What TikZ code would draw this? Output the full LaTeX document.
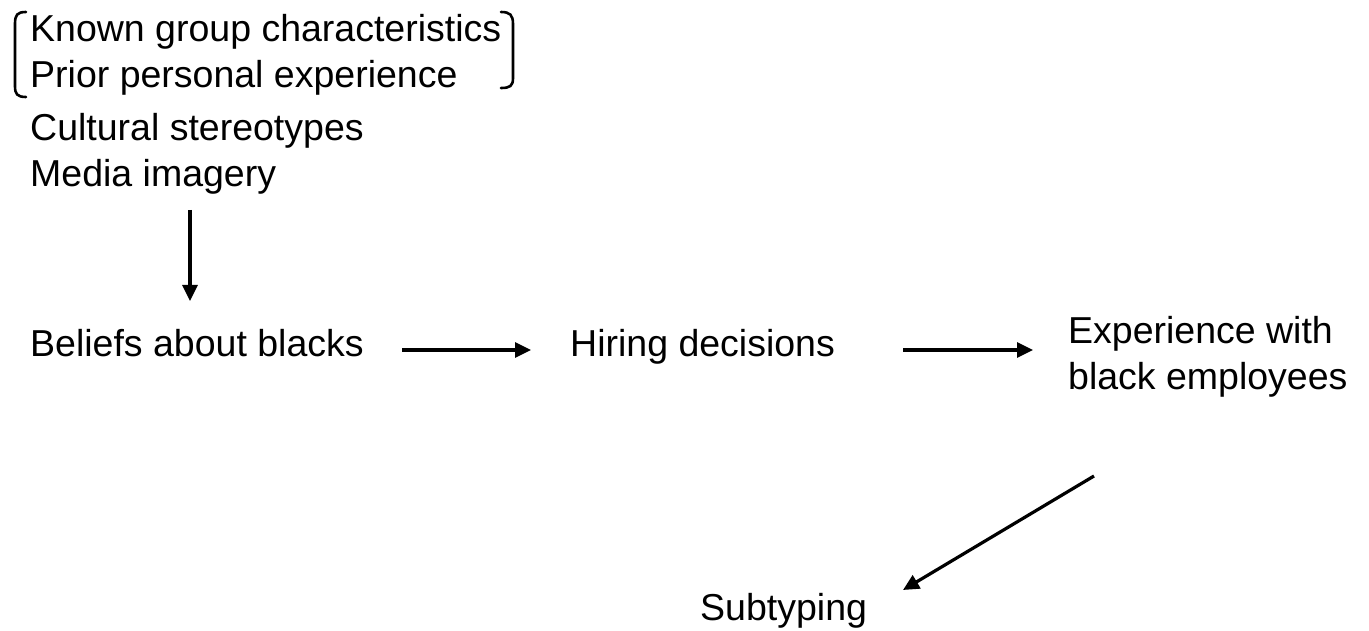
\documentclass[tikz,border=0pt]{standalone}
\usepackage{fontspec}
\setmainfont{Liberation Sans}
\usetikzlibrary{arrows.meta}
\begin{document}
\begin{tikzpicture}[x=1pt,y=-1pt,
  lbl/.style={anchor=base west,inner sep=0pt,font=\fontsize{37.5}{46}\selectfont},
  arr/.style={line width=3.2pt,-{Triangle[length=16pt,width=15pt]}},
  brk/.style={line width=2.6pt,line cap=round}]
\useasboundingbox (0,0) rectangle (1369,631);
\node[lbl] (known) at (30,42) {Known group characteristics};
\node[lbl] (prior) at (30,88) {Prior personal experience};
\node[lbl] (cult) at (30,141) {Cultural stereotypes};
\node[lbl] (media) at (30,187) {Media imagery};
\node[lbl] (beliefs) at (30,356) {Beliefs about blacks};
\node[lbl] (hiring) at (570,356) {Hiring decisions};
\node[lbl,align=left] (exper) at (1068,389) {Experience with\\black employees};
\node[lbl] (subt) at (700,620) {Subtyping};
% brackets
\draw[brk] (26,12) .. controls (17,12) and (15,15) .. (15,24) -- (15,86) .. controls (15,94) and (17,97) .. (26,97);
\draw[brk] (501,12) .. controls (510,12) and (513,15) .. (513,24) -- (513,78) .. controls (513,86) and (510,88) .. (501,88);
% arrow end points
\coordinate (a1s) at (190,210);
\coordinate (a1e) at (190,301);
\coordinate (a2s) at (402,350);
\coordinate (a2e) at (531,350);
\coordinate (a3s) at (903,350);
\coordinate (a3e) at (1033,350);
\coordinate (a4s) at (1094,476);
\coordinate (a4e) at (903,590);
\draw[arr] (a1s) -- (a1e);
\draw[arr] (a2s) -- (a2e);
\draw[arr] (a3s) -- (a3e);
\draw[arr] (a4s) -- (a4e);
\end{tikzpicture}
\end{document}
